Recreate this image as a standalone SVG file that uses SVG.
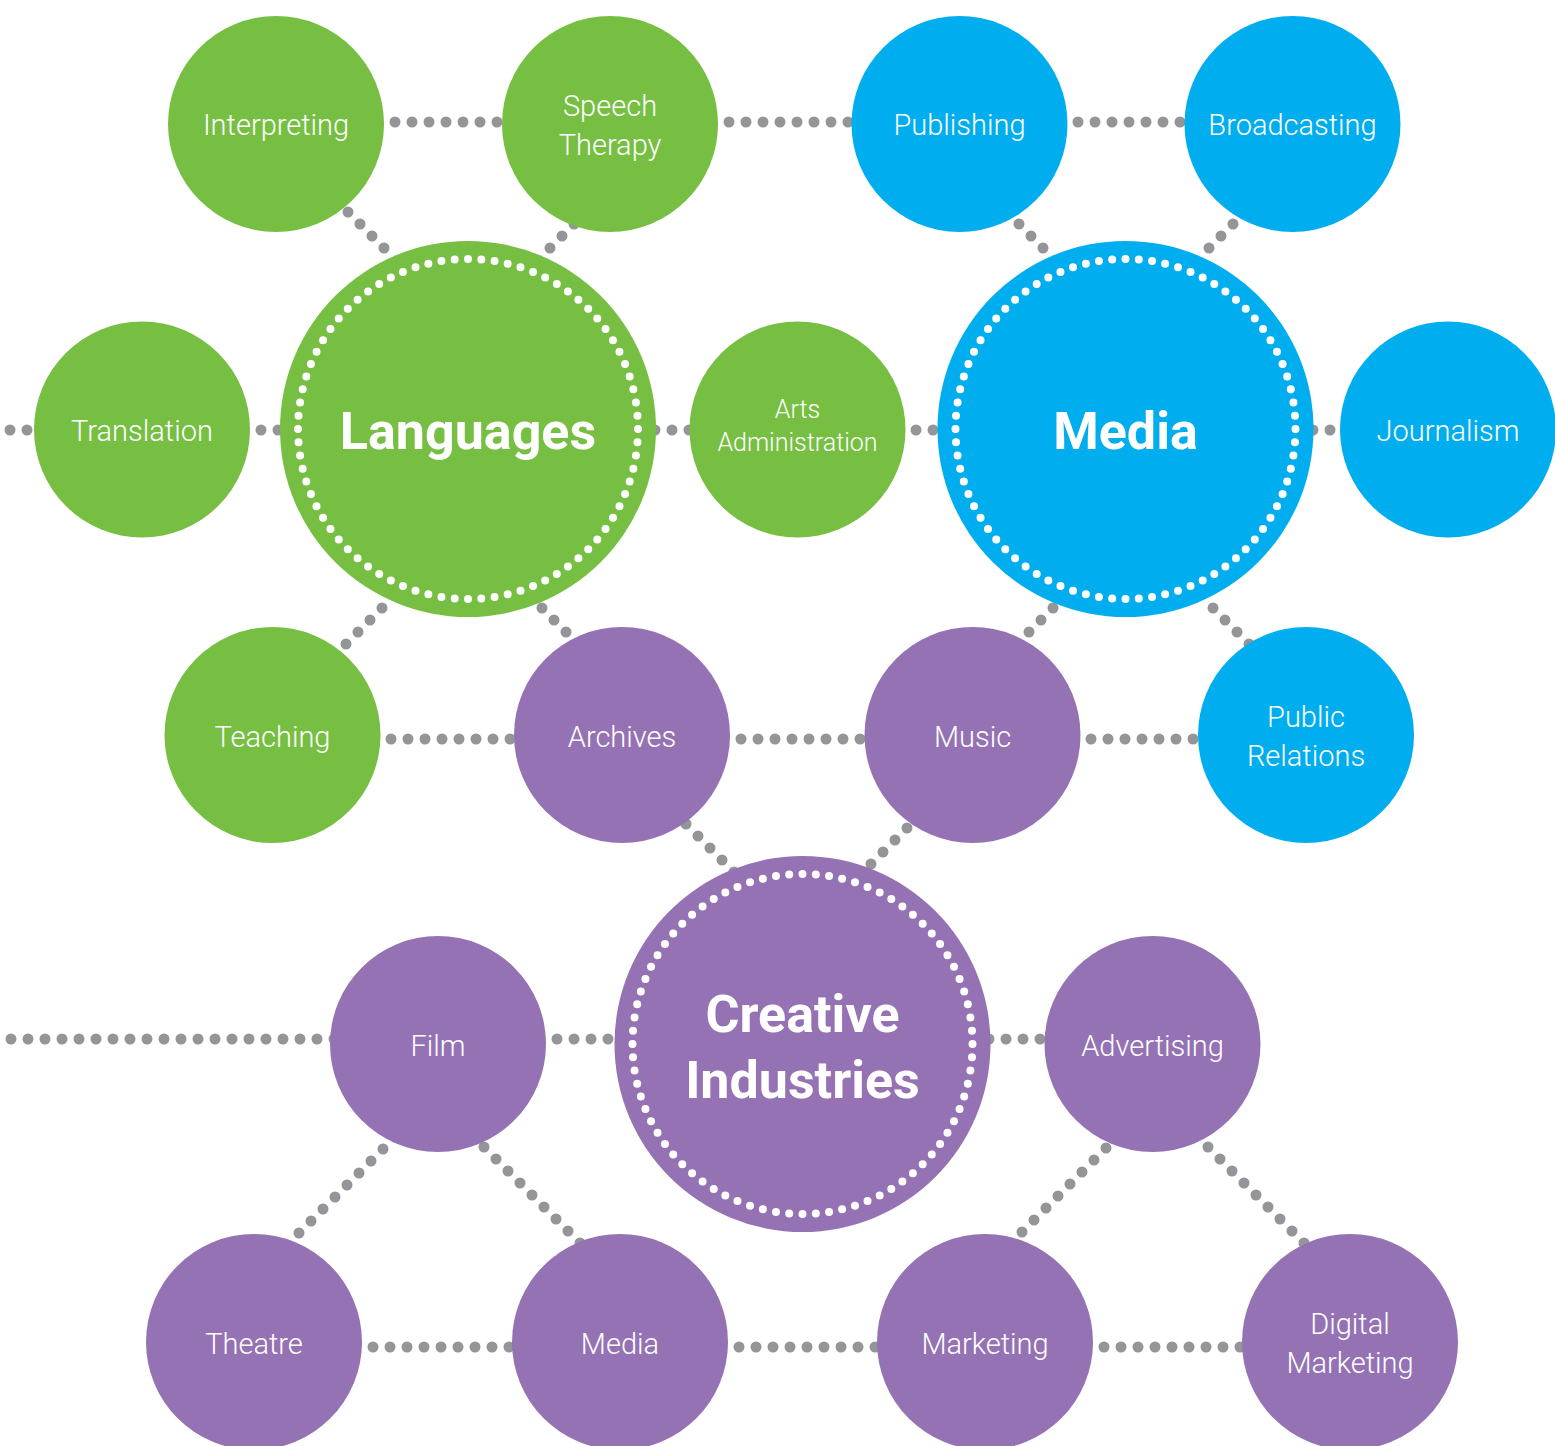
<svg xmlns="http://www.w3.org/2000/svg" width="1555" height="1446" viewBox="0 0 1555 1446">
<style>
.conn line{stroke:#939598;stroke-width:11;stroke-linecap:round;stroke-dasharray:0 16.97;fill:none}
.hz line{stroke-dasharray:0 17}
.g{fill:#76bf43}
.b{fill:#00aeef}
.p{fill:#9572b3}
.ring{fill:none;stroke:#ffffff;stroke-width:8;stroke-linecap:round;stroke-dasharray:0 1}
.lbl{font-family:Roboto,"Liberation Sans",sans-serif;font-size:29px;font-weight:300;fill:#ffffff;text-anchor:middle}
.sm{font-size:25px}
.big{font-family:Roboto,"Liberation Sans",sans-serif;font-size:52px;font-weight:700;fill:#ffffff;text-anchor:middle}
</style>
<rect width="1555" height="1446" fill="#ffffff"/>
<g id="connectors" class="conn">
  <g class="hz">
    <line x1="276" y1="122" x2="610" y2="122"/>
    <line x1="610" y1="122" x2="959" y2="122"/>
    <line x1="959" y1="122" x2="1292" y2="122"/>
    <line x1="10" y1="430" x2="142" y2="430"/>
    <line x1="142" y1="430" x2="468" y2="430"/>
    <line x1="468" y1="430" x2="797" y2="430"/>
    <line x1="797" y1="430" x2="1126" y2="430"/>
    <line x1="1126" y1="430" x2="1448" y2="430"/>
    <line x1="272" y1="739" x2="622" y2="739"/>
    <line x1="622" y1="739" x2="972" y2="739"/>
    <line x1="972" y1="739" x2="1306" y2="739"/>
    <line x1="11" y1="1039" x2="438" y2="1039"/>
    <line x1="438" y1="1039" x2="802" y2="1039"/>
    <line x1="802" y1="1039" x2="1152" y2="1039"/>
    <line x1="254" y1="1347" x2="620" y2="1347"/>
    <line x1="620" y1="1347" x2="985" y2="1347"/>
    <line x1="985" y1="1347" x2="1350" y2="1347"/>
  </g>
  <line x1="384" y1="248" x2="336" y2="200"/>
  <line x1="550" y1="248" x2="586" y2="212"/>
  <line x1="1043" y1="248" x2="1007" y2="212"/>
  <line x1="1209" y1="248" x2="1245" y2="212"/>
  <line x1="382" y1="608" x2="334" y2="656"/>
  <line x1="542" y1="608" x2="590" y2="656"/>
  <line x1="1053" y1="608" x2="1005" y2="656"/>
  <line x1="1213" y1="608" x2="1261" y2="656"/>
  <line x1="674" y1="812" x2="734" y2="872"/>
  <line x1="919" y1="816" x2="871" y2="864"/>
  <line x1="395" y1="1137" x2="299" y2="1233"/>
  <line x1="472" y1="1135" x2="580" y2="1243"/>
  <line x1="1118" y1="1136" x2="1022" y2="1232"/>
  <line x1="1196" y1="1135" x2="1304" y2="1243"/>
</g>
<g id="interpreting"><circle class="g" cx="276" cy="124" r="108"/><text class="lbl" x="276" y="135">Interpreting</text></g>
<g id="speech-therapy"><circle class="g" cx="610" cy="124" r="108"/><text class="lbl" x="610" y="116">Speech</text><text class="lbl" x="610" y="155">Therapy</text></g>
<g id="publishing"><circle class="b" cx="959.5" cy="124" r="108"/><text class="lbl" x="959.5" y="135">Publishing</text></g>
<g id="broadcasting"><circle class="b" cx="1292.5" cy="124" r="108"/><text class="lbl" x="1292.5" y="135">Broadcasting</text></g>
<g id="translation"><circle class="g" cx="142" cy="429.5" r="108"/><text class="lbl" x="142" y="441">Translation</text></g>
<g id="languages"><circle class="g" cx="468" cy="429" r="188"/><circle class="ring" cx="468" cy="429" r="170" pathLength="80"/><text class="big" x="468" y="449">Languages</text></g>
<g id="arts-administration"><circle class="g" cx="797.5" cy="429.5" r="108"/><text class="lbl sm" x="797.5" y="418">Arts</text><text class="lbl sm" x="797.5" y="451">Administration</text></g>
<g id="media"><circle class="b" cx="1125.5" cy="429" r="188"/><circle class="ring" cx="1125.5" cy="429" r="170" pathLength="80"/><text class="big" x="1125.5" y="449">Media</text></g>
<g id="journalism"><circle class="b" cx="1448" cy="429.5" r="108"/><text class="lbl" x="1448" y="441">Journalism</text></g>
<g id="teaching"><circle class="g" cx="272.5" cy="735" r="108"/><text class="lbl" x="272.5" y="747">Teaching</text></g>
<g id="archives"><circle class="p" cx="622" cy="735" r="108"/><text class="lbl" x="622" y="747">Archives</text></g>
<g id="music"><circle class="p" cx="972.5" cy="735" r="108"/><text class="lbl" x="972.5" y="747">Music</text></g>
<g id="public-relations"><circle class="b" cx="1306" cy="735" r="108"/><text class="lbl" x="1306" y="727">Public</text><text class="lbl" x="1306" y="766">Relations</text></g>
<g id="creative-industries"><circle class="p" cx="802.5" cy="1044" r="188"/><circle class="ring" cx="802.5" cy="1044" r="170" pathLength="80"/><text class="big" x="802.5" y="1032">Creative</text><text class="big" x="802.5" y="1098">Industries</text></g>
<g id="film"><circle class="p" cx="438" cy="1044" r="108"/><text class="lbl" x="438" y="1056">Film</text></g>
<g id="advertising"><circle class="p" cx="1152.5" cy="1044" r="108"/><text class="lbl" x="1152.5" y="1056">Advertising</text></g>
<g id="theatre"><circle class="p" cx="254" cy="1342" r="108"/><text class="lbl" x="254" y="1354">Theatre</text></g>
<g id="media-film"><circle class="p" cx="620" cy="1342" r="108"/><text class="lbl" x="620" y="1354">Media</text></g>
<g id="marketing"><circle class="p" cx="985" cy="1342" r="108"/><text class="lbl" x="985" y="1354">Marketing</text></g>
<g id="digital-marketing"><circle class="p" cx="1350" cy="1342" r="108"/><text class="lbl" x="1350" y="1334">Digital</text><text class="lbl" x="1350" y="1373">Marketing</text></g>
</svg>
